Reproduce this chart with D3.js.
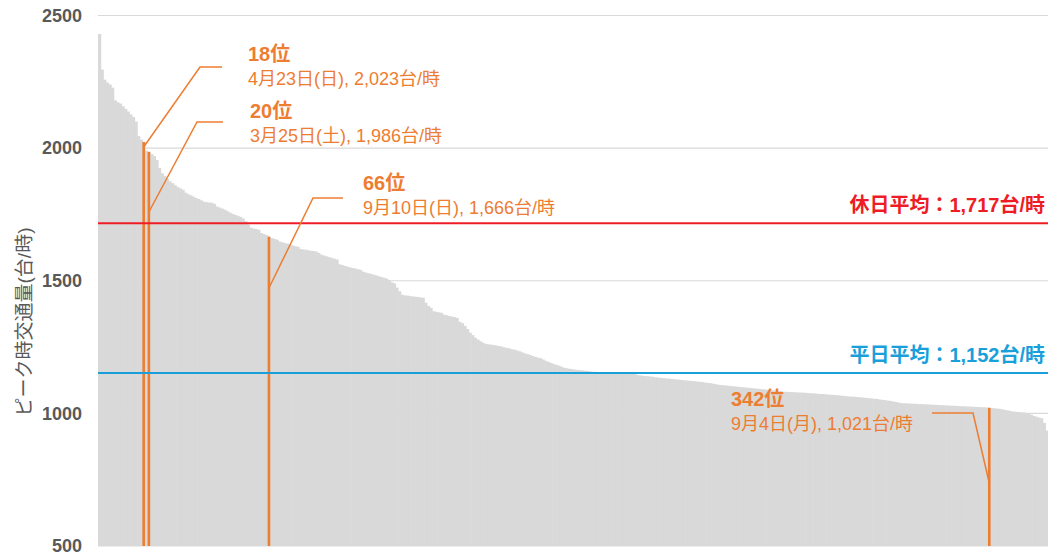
<!DOCTYPE html>
<html><head><meta charset="utf-8">
<script src="https://cdn.jsdelivr.net/npm/d3@7"></script>
<style>
html,body{margin:0;padding:0;background:#fff;}
svg{display:block;}
text{font-family:"Liberation Sans","Noto Sans CJK JP",sans-serif;}
</style></head>
<body>
<svg id="chart" width="1048" height="555"></svg>
<script>
// ---- data ----
const peakValues = [
2430,2296,2258,2247,2240,2228,2180,2173,2168,2158,2148,2138,2127,2117,2100,2045,2032,2023,1990,1986,
1978,1970,1955,1925,1905,1895,1885,1875,1868,1860,1853,1848,1843,1832,1826,1822,1817,1812,1808,1803,
1798,1796,1795,1794,1790,1780,1776,1772,1768,1762,1757,1752,1748,1745,1741,1735,1725,1712,1700,1697,
1695,1692,1680,1676,1672,1666,1661,1658,1655,1648,1645,1642,1640,1636,1633,1630,1628,1620,1618,1617,
1615,1613,1612,1610,1605,1598,1595,1592,1589,1586,1583,1580,1562,1559,1556,1553,1550,1548,1546,1543,
1541,1534,1531,1528,1526,1523,1520,1517,1514,1511,1508,1502,1494,1490,1474,1460,1447,1445,1444,1442,
1441,1440,1439,1437,1436,1417,1405,1398,1385,1383,1381,1379,1372,1370,1367,1365,1363,1360,1345,1340,
1330,1318,1304,1295,1285,1278,1272,1266,1262,1260,1259,1258,1256,1254,1252,1249,1247,1245,1242,1240,
1237,1234,1230,1226,1223,1220,1216,1213,1210,1208,1203,1198,1194,1190,1186,1183,1180,1176,1172,1170,
1168,1167,1165,1164,1163,1162,1161,1160,1158,1157,1157,1156,1156,1156,1155,1155,1155,1154,1154,1154,
1153,1153,1153,1153,1152,1152,1145,1143,1142,1141,1140,1139,1138,1136,1135,1134,1133,1132,1131,1130,
1129,1128,1127,1126,1125,1124,1123,1122,1121,1120,1119,1118,1116,1115,1114,1112,1110,1108,1107,1106,
1105,1104,1103,1102,1101,1100,1099,1098,1097,1096,1095,1094,1093,1092,1091,1090,1089,1088,1087,1086,
1085,1084,1082,1081,1081,1080,1080,1079,1079,1078,1078,1077,1076,1076,1075,1074,1073,1073,1072,1071,
1070,1070,1069,1068,1067,1066,1065,1064,1063,1063,1062,1061,1060,1059,1058,1057,1056,1055,1054,1052,
1051,1050,1048,1047,1045,1043,1041,1039,1038,1038,1037,1037,1036,1036,1035,1035,1034,1034,1033,1033,
1032,1032,1031,1031,1030,1030,1029,1029,1028,1028,1027,1027,1026,1026,1025,1025,1024,1024,1023,1023,
1022,1021,1020,1019,1018,1017,1015,1013,1011,1009,1007,1006,1005,1004,1003,1002,1001,995,990,987,
984,982,964,935
];
const highlightRanks = [18, 20, 66, 342];
const highlightTitles = ["18位", "20位", "66位", "342位"];
const highlightDetails = [
  "4月23日(日), 2,023台/時",
  "3月25日(土), 1,986台/時",
  "9月10日(日), 1,666台/時",
  "9月4日(月), 1,021台/時"
];
const holidayAvg = 1717;
const weekdayAvg = 1152;
const holidayLabel = "休日平均：1,717台/時";
const weekdayLabel = "平日平均：1,152台/時";
const yTicks = [500, 1000, 1500, 2000, 2500];
const yTitle = "ピーク時交通量(台/時)";

// ---- layout ----
const plotLeft = 98, plotRight = 1048, plotTop = 15.5, plotBottom = 546;
const orange = "#ed7d31", red = "#ee1c25", blue = "#1a9fdb", gray = "#d9d9d9", textGray = "#595959";

const svg = d3.select("#chart");
const x = d3.scaleBand().domain(d3.range(peakValues.length)).range([plotLeft, plotRight]).padding(0);
const y = d3.scaleLinear().domain([500, 2500]).range([plotBottom, plotTop]);

// gridlines
svg.append("g").selectAll("line").data(yTicks).join("line")
  .attr("x1", plotLeft).attr("x2", plotRight)
  .attr("y1", d => y(d)).attr("y2", d => y(d))
  .attr("stroke", "#d9d9d9").attr("stroke-width", 1.2);

// y axis labels
const yAxis = d3.axisLeft(y).tickValues(yTicks).tickSize(0).tickPadding(0).tickFormat(d3.format("d"));
const ga = svg.append("g").attr("transform", `translate(82,0)`).call(yAxis);
ga.select(".domain").remove();
ga.selectAll("text").attr("font-size", 18).attr("font-weight", "bold").attr("fill", textGray)
  .attr("font-family", '"Liberation Sans","Noto Sans CJK JP",sans-serif');

// y title
svg.append("text").attr("transform", `translate(31,322) rotate(-90)`)
  .attr("text-anchor", "middle").attr("font-size", 19).attr("fill", textGray)
  .text(yTitle);

// gray bars
svg.append("g").selectAll("rect").data(peakValues).join("rect")
  .attr("x", (d, i) => x(i)).attr("width", x.bandwidth() + 0.6)
  .attr("y", d => y(d)).attr("height", d => y(500) - y(d))
  .attr("fill", gray);

// highlighted bars
svg.append("g").selectAll("rect").data(highlightRanks).join("rect")
  .attr("x", r => x(r - 1)).attr("width", x.bandwidth())
  .attr("y", r => y(peakValues[r - 1])).attr("height", r => y(500) - y(peakValues[r - 1]))
  .attr("fill", orange);

// average lines
[[holidayAvg, red, holidayLabel], [weekdayAvg, blue, weekdayLabel]].forEach(([v, c, lbl]) => {
  svg.append("line").attr("x1", plotLeft).attr("x2", plotRight)
    .attr("y1", y(v)).attr("y2", y(v)).attr("stroke", c).attr("stroke-width", 2);
  svg.append("text").attr("x", 1045).attr("y", y(v) - 11)
    .attr("text-anchor", "end").attr("font-size", 20).attr("font-weight", "bold")
    .attr("fill", c).text(lbl);
});

// annotations (label positions / leader geometry are layout)
const annotLayout = [
  {tx: 248, ty: 61, ay: 147, ex: 200, ey: 67, hx: 222},
  {tx: 250, ty: 118, ay: 212, ex: 197, ey: 122, hx: 223},
  {tx: 363, ty: 190, ay: 288, ex: 313, ey: 198, hx: 343},
  {tx: 731, ty: 406, ay: 483, ex: 973, ey: 413, hx: 932}
];
highlightRanks.forEach((r, k) => {
  const L = annotLayout[k];
  const bx = x(r - 1) + x.bandwidth() / 2;
  svg.append("path")
    .attr("d", d3.line()([[bx, L.ay], [L.ex, L.ey], [L.hx, L.ey]]))
    .attr("fill", "none").attr("stroke", orange).attr("stroke-width", 1.5);
  svg.append("text").attr("x", L.tx).attr("y", L.ty)
    .attr("font-size", 20).attr("font-weight", "bold").attr("fill", orange)
    .text(highlightTitles[k]);
  svg.append("text").attr("x", L.tx).attr("y", L.ty + 24)
    .attr("font-size", 18).attr("fill", orange)
    .text(highlightDetails[k]);
});
</script>
</body></html>
